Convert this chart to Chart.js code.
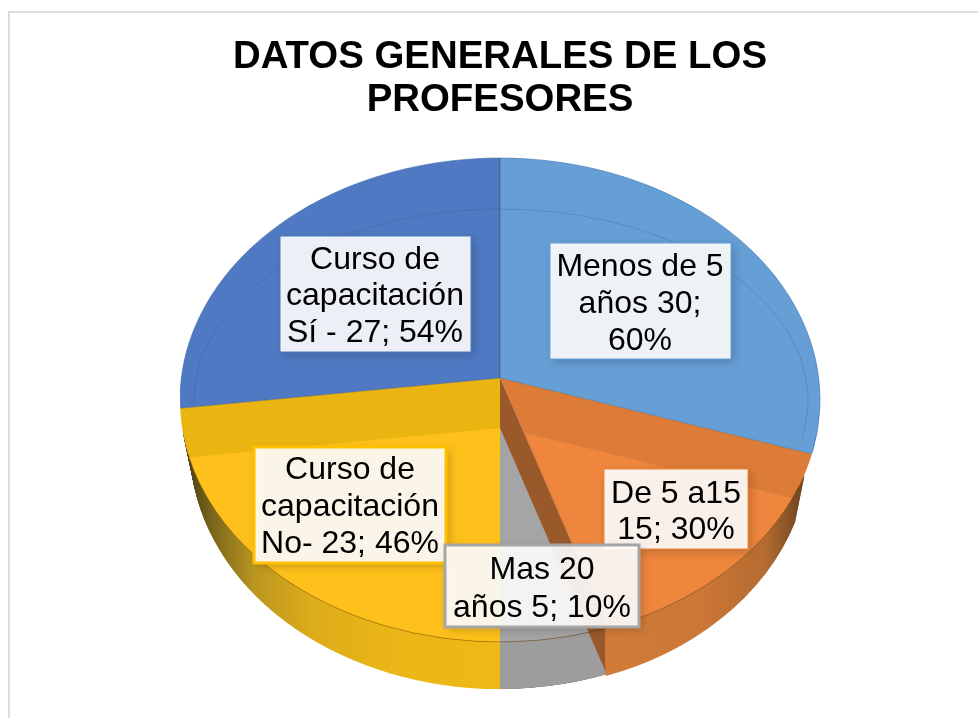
<!DOCTYPE html>
<html>
<head>
<meta charset="utf-8">
<style>html,body{margin:0;padding:0;background:#fff}canvas{display:block}</style>
<script src="https://cdn.jsdelivr.net/npm/chart.js@4"></script>
</head>
<body>
<canvas id="c" width="978" height="718"></canvas>
<script>
const titleLines = ["DATOS GENERALES DE LOS", "PROFESORES"];
const categories = ["Menos de 5 años", "De 5 a15", "Mas 20 años", "Curso de capacitación No", "Curso de capacitación Sí"];
const values = [30, 15, 5, 23, 27];
const labelLines = [
  ["Menos de 5", "años 30;", "60%"],
  ["De 5 a15", "15; 30%"],
  ["Mas 20", "años 5; 10%"],
  ["Curso de", "capacitación", "No- 23; 46%"],
  ["Curso de", "capacitación", "Sí - 27; 54%"]
];

// styling and layout
const FACE = ["#669fd6", "#ee863d", "#a5a5a5", "#fec01a", "#4f7ac3"];
const BAND = { 1: "#dd7c38", 3: "#eab511" };
const EDGE = "rgba(70,60,50,.4)";
const TOP = { x: 500, y: 400, rx: 320, ry: 242 };
const DEPTH = 47, WEDGE_RX = 460, WEDGE_RY = 345;
const BOXES = [
  { i: 1, x: 604, y: 469, w: 144, h: 80, cx: 676, base: [503, 539], line: "#ee863d", lw: 1 },
  { i: 3, x: 254, y: 447, w: 192, h: 116, cx: 350, base: [479, 516, 553], line: "#ffc000", lw: 3 },
  { i: 2, x: 445, y: 545, w: 194, h: 82, cx: 542, base: [579, 617], line: "#a5a5a5", lw: 3 },
  { i: 4, x: 280, y: 236, w: 191, h: 116, cx: 375, base: [269, 305, 342], line: "#4f7ac3", lw: 1 },
  { i: 0, x: 550, y: 243, w: 181, h: 116, cx: 640, base: [276, 313, 350], line: "#669fd6", lw: 1 }
];

const pie3d = {
  id: "pie3d",
  beforeDraw(chart) {
    const ctx = chart.ctx;
    ctx.save();
    ctx.strokeStyle = "#dcdcdc";
    ctx.lineWidth = 2;
    ctx.beginPath();
    ctx.moveTo(9, 730); ctx.lineTo(9, 12); ctx.lineTo(990, 12);
    ctx.stroke();
    ctx.restore();
  },
  beforeDatasetsDraw(chart) {
    const ctx = chart.ctx, arcs = chart.getDatasetMeta(0).data, R = arcs[0].outerRadius;
    const put = (i, ax, ay, rx, ry, fill, line) => {
      const a = arcs[i], keep = a.options;
      const style = typeof fill === "function" ? fill(a, ax, rx) : fill;
      a.options = { backgroundColor: style, borderColor: line || style, borderWidth: line ? R / rx : 0,
        borderAlign: "center", borderDash: [], borderDashOffset: 0, borderJoinStyle: "round",
        offset: 0, spacing: 0, circular: true, borderRadius: 0, selfJoin: false };
      ctx.save();
      ctx.translate(ax, ay);
      ctx.scale(rx / R, ry / R);
      ctx.translate(-a.x, -a.y);
      a.draw(ctx);
      ctx.restore();
      a.options = keep;
    };
    const ramp = stops => (a, ax, rx) => {
      const toLocal = X => a.x + (X - ax) * R / rx;
      const g = ctx.createLinearGradient(toLocal(stops[0][0]), 0, toLocal(stops[stops.length - 1][0]), 0);
      const span = stops[stops.length - 1][0] - stops[0][0];
      stops.forEach(s => g.addColorStop((s[0] - stops[0][0]) / span, s[1]));
      return g;
    };
    const clipTo = both => {
      ctx.beginPath();
      ctx.ellipse(TOP.x, TOP.y, TOP.rx, TOP.ry, 0, 0, Math.PI * 2);
      if (both) {
        ctx.moveTo(TOP.x + 310, TOP.y + DEPTH);
        ctx.ellipse(TOP.x, TOP.y + DEPTH, 310, TOP.ry, 0, 0, Math.PI * 2);
      }
      ctx.clip();
    };
    const clipOutside = () => {
      ctx.beginPath();
      ctx.rect(0, 0, chart.width, chart.height);
      ctx.ellipse(TOP.x, TOP.y, TOP.rx, TOP.ry, 0, 0, Math.PI * 2);
      ctx.clip("evenodd");
    };
    const yellowSide = ramp([[188, "#4f4114"], [215, "#7f6a1c"], [255, "#bb9620"], [310, "#dcab1a"], [400, "#ecb716"], [500, "#eeb815"]]);
    const orangeSide = ramp([[600, "#d27b39"], [700, "#cb7736"], [765, "#b56c30"], [795, "#7c4d24"], [812, "#5e3c20"]]);
    const greySide = "#9d9d9d", brown = "#99592b";

    // walls of the front slices
    for (let d = DEPTH; d >= 1; d--) {
      const rx = 320 - d * 10 / DEPTH;
      put(3, TOP.x, TOP.y + d, rx, TOP.ry, yellowSide);
      put(2, TOP.x, TOP.y + d, rx, TOP.ry, greySide);
    }
    ctx.save(); clipTo(true);
    put(2, 500, 378, WEDGE_RX, WEDGE_RY, brown);
    put(2, 500, 428, WEDGE_RX, WEDGE_RY, greySide);
    ctx.restore();
    ctx.save(); clipOutside();
    // the wall of the orange slice starts under the rim point where that slice ends
    const wallStart = TOP.x + TOP.rx * Math.cos(arcs[1].endAngle) + 7;
    ctx.beginPath();
    ctx.rect(wallStart, 0, chart.width, chart.height);
    ctx.clip();
    for (let d = DEPTH; d >= 1; d--) {
      const rx = 320 - d * 10 / DEPTH;
      put(1, TOP.x + 9, TOP.y + d, rx - 9, TOP.ry, orangeSide);
    }
    ctx.restore();

    // faces, cut by the top ellipse
    ctx.save(); clipTo(false);
    put(1, 500, 378, WEDGE_RX, WEDGE_RY, BAND[1]);
    put(1, 525, 433, WEDGE_RX, WEDGE_RY, FACE[1]);
    put(2, 500, 378, WEDGE_RX, WEDGE_RY, brown);
    put(2, 500, 428, WEDGE_RX, WEDGE_RY, FACE[2]);
    put(3, 500, 378, WEDGE_RX, WEDGE_RY, BAND[3]);
    put(3, 500, 428, WEDGE_RX, WEDGE_RY, FACE[3]);
    put(4, 500, 378, WEDGE_RX, WEDGE_RY, FACE[4], EDGE);
    put(0, 500, 378, WEDGE_RX, WEDGE_RY, FACE[0], EDGE);
    ctx.restore();

    // rim lines
    ctx.save();
    ctx.lineWidth = 1;
    ctx.strokeStyle = "rgba(45,80,130,.25)";
    ctx.beginPath();
    ctx.ellipse(501, 400, 307, 191, 0, Math.PI - 0.03, Math.PI * 2 + 0.2);
    ctx.stroke();
    ctx.strokeStyle = "rgba(50,100,160,.55)";
    ctx.beginPath();
    ctx.ellipse(TOP.x, TOP.y, TOP.rx, TOP.ry, 0, Math.PI + 0.03, Math.PI * 2 + 0.22);
    ctx.stroke();
    ctx.strokeStyle = "rgba(90,55,10,.45)";
    ctx.beginPath();
    ctx.ellipse(TOP.x, TOP.y, TOP.rx, TOP.ry, 0, 0.37, Math.PI - 0.23);
    ctx.stroke();
    ctx.restore();
    return false;
  },
  afterDraw(chart) {
    const ctx = chart.ctx;
    BOXES.forEach(b => {
      ctx.save();
      ctx.shadowColor = "rgba(0,0,0,.22)";
      ctx.shadowBlur = 9;
      ctx.shadowOffsetX = 3;
      ctx.shadowOffsetY = 3;
      ctx.fillStyle = "rgba(255,255,255,.9)";
      ctx.fillRect(b.x, b.y, b.w, b.h);
      ctx.restore();
      ctx.save();
      ctx.strokeStyle = b.line;
      ctx.lineWidth = b.lw;
      ctx.strokeRect(b.x, b.y, b.w, b.h);
      ctx.fillStyle = "#000";
      ctx.font = '32px "Liberation Sans", Arial, sans-serif';
      ctx.textAlign = "center";
      ctx.textBaseline = "alphabetic";
      labelLines[b.i].forEach((t, k) => ctx.fillText(t, b.cx, b.base[k]));
      ctx.restore();
    });
  }
};

new Chart(document.getElementById("c"), {
  type: "pie",
  data: { labels: categories, datasets: [{ data: values, backgroundColor: FACE }] },
  options: {
    responsive: false,
    animation: false,
    layout: { padding: { left: 22 } },
    events: [],
    plugins: {
      legend: { display: false },
      tooltip: { enabled: false },
      title: {
        display: true,
        text: titleLines,
        color: "#000",
        align: "center",
        font: { family: '"Liberation Sans", Arial, sans-serif', size: 38.4, weight: "bold", lineHeight: 1.12 },
        padding: { top: 36, bottom: 20 }
      }
    }
  },
  plugins: [pie3d]
});
</script>
</body>
</html>
